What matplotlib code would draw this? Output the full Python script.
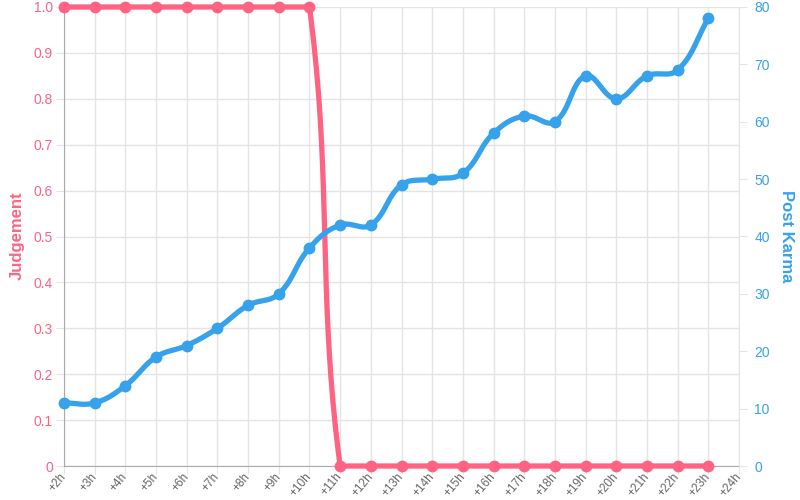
import numpy as np
import matplotlib
matplotlib.use("Agg")
import matplotlib.pyplot as plt

labels = ["+2h", "+3h", "+4h", "+5h", "+6h", "+7h", "+8h", "+9h", "+10h", "+11h", "+12h",
          "+13h", "+14h", "+15h", "+16h", "+17h", "+18h", "+19h", "+20h", "+21h", "+22h",
          "+23h", "+24h"]
judgement = [1, 1, 1, 1, 1, 1, 1, 1, 1, 0, 0, 0, 0, 0, 0, 0, 0, 0, 0, 0, 0, 0]
karma = [11, 11, 14, 19, 21, 24, 28, 30, 38, 42, 42, 49, 50, 51, 58, 61, 60, 68, 64, 68, 69, 78]

RED = "#ff6384"
BLUE = "#36a2eb"
GRID = "#e4e4e4"

W, H = 800, 500
fig = plt.figure(figsize=(W / 100, H / 100), dpi=100)
L, R, T, B = 64, 739, 7, 466
ax = fig.add_axes([L / W, 1 - B / H, (R - L) / W, (B - T) / H])
ax2 = ax.twinx()

plt.rcParams['font.family'] = ['Liberation Sans', 'DejaVu Sans']
fs = "Liberation Sans"

nx = len(labels) - 1
ax.set_xlim(0, nx)
ax.set_ylim(0, 1)
ax2.set_ylim(0, 80)


def spline(xs, ys, sx, sy, tension=0.4, ymin=None, ymax=None, n=40):
    # Chart.js style bezier in pixel space
    px = np.array(xs, float) * sx
    py = np.array(ys, float) * sy
    m = len(px)
    cp_prev = np.zeros((m, 2))
    cp_next = np.zeros((m, 2))
    for i in range(m):
        p0 = (px[max(i - 1, 0)], py[max(i - 1, 0)])
        p1 = (px[i], py[i])
        p2 = (px[min(i + 1, m - 1)], py[min(i + 1, m - 1)])
        d01 = np.hypot(p1[0] - p0[0], p1[1] - p0[1])
        d12 = np.hypot(p2[0] - p1[0], p2[1] - p1[1])
        s01 = d01 / (d01 + d12) if d01 + d12 else 0
        s12 = d12 / (d01 + d12) if d01 + d12 else 0
        fa = tension * s01
        fb = tension * s12
        cp_prev[i] = (p1[0] - fa * (p2[0] - p0[0]), p1[1] - fa * (p2[1] - p0[1]))
        cp_next[i] = (p1[0] + fb * (p2[0] - p0[0]), p1[1] + fb * (p2[1] - p0[1]))
    lo, hi = ymin * sy, ymax * sy
    cp_prev[:, 1] = np.clip(cp_prev[:, 1], lo, hi)
    cp_next[:, 1] = np.clip(cp_next[:, 1], lo, hi)
    outx, outy = [], []
    t = np.linspace(0, 1, n)
    for i in range(m - 1):
        P0 = np.array([px[i], py[i]]); P3 = np.array([px[i + 1], py[i + 1]])
        P1 = cp_next[i]; P2 = cp_prev[i + 1]
        pts = ((1 - t) ** 3)[:, None] * P0 + (3 * (1 - t) ** 2 * t)[:, None] * P1 + \
              (3 * (1 - t) * t ** 2)[:, None] * P2 + (t ** 3)[:, None] * P3
        outx.extend(pts[:, 0]); outy.extend(pts[:, 1])
    return np.array(outx) / sx, np.array(outy) / sy


xs = np.arange(len(judgement))
sx = (R - L) / nx
jx, jy = spline(xs, judgement, sx, (B - T) / 1.0, ymin=0, ymax=1)
kx, ky = spline(xs, karma, sx, (B - T) / 80.0, ymin=0, ymax=80)

ax.plot(jx, jy, color=RED, lw=3.8, solid_capstyle="round", zorder=3, clip_on=False)
ax.plot(xs, judgement, "o", color=RED, ms=7.5, zorder=4, clip_on=False)
ax2.plot(kx, ky, color=BLUE, lw=3.8, solid_capstyle="round", zorder=3, clip_on=False)
ax2.plot(xs, karma, "o", color=BLUE, ms=7.5, zorder=4, clip_on=False)

ax.set_zorder(2); ax2.set_zorder(3)
ax.patch.set_visible(False)

ax.set_xticks(np.arange(len(labels)))
ax.set_xticklabels(labels, rotation=50, ha="right", va="center", rotation_mode="anchor",
                   color="#666666", fontsize=8.5, family=fs)
for lab in ax.get_xticklabels():
    lab.set_transform(lab.get_transform() + matplotlib.transforms.ScaledTranslation(4 / 100, -4 / 100, fig.dpi_scale_trans))
ax.set_yticks(np.arange(0, 1.01, 0.1))
ax.set_yticklabels(["0"] + [f"{v:.1f}" for v in np.arange(0.1, 1.01, 0.1)],
                   color=RED, fontsize=10, family=fs)
ax2.set_yticks(np.arange(0, 81, 10))
ax2.set_yticklabels([str(v) for v in range(0, 81, 10)], color=BLUE, fontsize=10, family=fs)

ax.grid(True, color=GRID, lw=1, zorder=0)
ax.set_axisbelow(True)
ax.tick_params(axis="x", length=6, color=GRID, pad=0)
ax.tick_params(axis="y", length=6, color=GRID, pad=2)
ax2.tick_params(axis="y", length=6, color=GRID, pad=5)

for a in (ax, ax2):
    for s in a.spines.values():
        s.set_visible(False)
ax.spines["left"].set_visible(True)
ax.spines["left"].set_color("#aaaaaa")
ax.spines["bottom"].set_visible(True)
ax.spines["bottom"].set_color("#aaaaaa")
ax2.spines["right"].set_visible(True)
ax2.spines["right"].set_color(GRID)

fig.text(17 / W, 1 - 236 / H, "Judgement", color=RED, fontsize=12, family=fs, weight="bold",
         rotation=90, ha="center", va="center")
fig.text(786 / W, 1 - 236 / H, "Post Karma", color=BLUE, fontsize=12, family=fs, weight="bold",
         rotation=-90, ha="center", va="center")

fig.savefig("out.png", dpi=100)
